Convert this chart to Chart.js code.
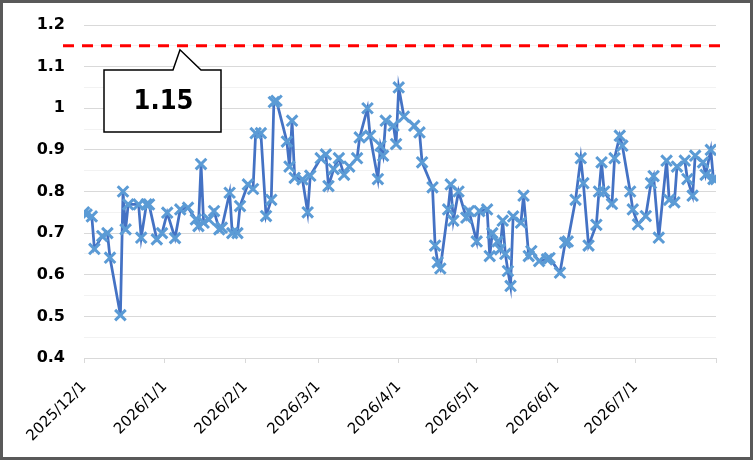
<!DOCTYPE html>
<html>
<head>
<meta charset="utf-8">
<script src="https://cdn.jsdelivr.net/npm/chart.js@4.4.1/dist/chart.umd.min.js"></script>
<style>
  html, body { margin: 0; padding: 0; background: #fff; }
  canvas { display: block; }
</style>
</head>
<body>
<canvas id="c" width="753" height="460"></canvas>
<script>
// ---- data ----
const dates = [
  '2025/12/1','2025/12/2','2025/12/4','2025/12/5','2025/12/8','2025/12/10','2025/12/11',
  '2025/12/15','2025/12/16','2025/12/17','2025/12/18','2025/12/22','2025/12/23','2025/12/25',
  '2025/12/26','2025/12/29','2025/12/31',
  '2026/1/2','2026/1/5','2026/1/7','2026/1/10','2026/1/13','2026/1/14','2026/1/15','2026/1/16',
  '2026/1/18','2026/1/20','2026/1/22','2026/1/23','2026/1/26','2026/1/27','2026/1/29','2026/1/30',
  '2026/2/2','2026/2/4','2026/2/5','2026/2/7','2026/2/9','2026/2/11','2026/2/12','2026/2/13',
  '2026/2/17','2026/2/18','2026/2/19','2026/2/20','2026/2/23','2026/2/25','2026/2/26',
  '2026/3/2','2026/3/4','2026/3/5','2026/3/7','2026/3/9','2026/3/11','2026/3/13','2026/3/16',
  '2026/3/17','2026/3/20','2026/3/21','2026/3/24','2026/3/25','2026/3/26','2026/3/27','2026/3/30',
  '2026/3/31',
  '2026/4/1','2026/4/3','2026/4/7','2026/4/9','2026/4/10','2026/4/14','2026/4/15','2026/4/16',
  '2026/4/17','2026/4/20','2026/4/21','2026/4/22','2026/4/24','2026/4/27','2026/4/28',
  '2026/5/1','2026/5/2','2026/5/5','2026/5/6','2026/5/7','2026/5/9','2026/5/10','2026/5/11',
  '2026/5/12','2026/5/13','2026/5/14','2026/5/15','2026/5/18','2026/5/19','2026/5/21','2026/5/22',
  '2026/5/25','2026/5/28','2026/5/29',
  '2026/6/2','2026/6/4','2026/6/5','2026/6/8','2026/6/10','2026/6/11','2026/6/13','2026/6/16',
  '2026/6/17','2026/6/18','2026/6/19','2026/6/22','2026/6/23','2026/6/25','2026/6/26','2026/6/29',
  '2026/6/30',
  '2026/7/2','2026/7/5','2026/7/7','2026/7/8','2026/7/10','2026/7/13','2026/7/14','2026/7/16',
  '2026/7/17','2026/7/20','2026/7/21','2026/7/23','2026/7/24','2026/7/27','2026/7/28','2026/7/30',
  '2026/7/31','2026/8/1'
];
const values = [
  0.75,0.745,0.74,0.662,0.693,0.70,0.641,
  0.503,0.80,0.709,0.769,0.769,0.689,0.769,
  0.769,0.685,0.70,
  0.749,0.688,0.757,0.761,0.733,0.717,0.866,0.725,
  0.733,0.753,0.709,0.713,0.797,0.70,0.70,0.765,
  0.817,0.806,0.94,0.94,0.741,0.78,1.015,1.018,
  0.92,0.86,0.97,0.833,0.829,0.75,0.838,
  0.88,0.889,0.813,0.854,0.88,0.84,0.86,0.88,
  0.93,1.00,0.934,0.83,0.91,0.886,0.97,0.958,
  0.914,
  1.05,0.98,0.958,0.942,0.87,0.81,0.67,0.63,
  0.615,0.757,0.817,0.73,0.80,0.737,0.753,
  0.68,0.753,0.757,0.645,0.70,0.68,0.661,0.73,
  0.65,0.609,0.573,0.74,0.725,0.79,0.645,0.657,
  0.633,0.637,0.64,
  0.605,0.677,0.68,0.78,0.88,0.82,0.67,0.72,
  0.80,0.87,0.80,0.77,0.88,0.934,0.91,0.80,
  0.757,
  0.721,0.741,0.82,0.837,0.689,0.874,0.78,0.774,
  0.86,0.874,0.83,0.79,0.886,0.87,0.84,0.90,
  0.83,0.83
];
const monthTicks = ['2025/12/1','2026/1/1','2026/2/1','2026/3/1','2026/4/1','2026/5/1','2026/6/1','2026/7/1','2026/8/1'];
const labeledMonths = ['2025/12/1','2026/1/1','2026/2/1','2026/3/1','2026/4/1','2026/5/1','2026/6/1','2026/7/1'];
const yMin = 0.4, yMax = 1.2, yStep = 0.05;
const thresholdValue = 1.15;
const calloutText = '1.15';

// ---- helpers ----
function dayOf(s) {
  const [y, m, d] = s.split('/').map(Number);
  const [y0, m0, d0] = monthTicks[0].split('/').map(Number);
  return Math.round((Date.UTC(y, m - 1, d) - Date.UTC(y0, m0 - 1, d0)) / 864e5);
}
function isMajor(v) { return Math.abs(v * 10 - Math.round(v * 10)) < 1e-6; }

const points = dates.map((d, i) => ({ x: dayOf(d), y: values[i] }));
const tickDays = monthTicks.map(dayOf);
const tickLabelMap = {};
labeledMonths.forEach(s => { tickLabelMap[dayOf(s)] = s; });

const decor = {
  id: 'decor',
  beforeDraw(chart) {
    const ctx = chart.ctx;
    ctx.save();
    ctx.fillStyle = '#fff';
    ctx.fillRect(0, 0, chart.width, chart.height);
    ctx.restore();
  },
  afterDraw(chart) {
    const ctx = chart.ctx;
    const ys = chart.scales.y;
    const yT = ys.getPixelForValue(thresholdValue);
    ctx.save();
    // red dashed threshold line
    ctx.strokeStyle = '#FF0000';
    ctx.lineWidth = 3;
    ctx.setLineDash([11, 8]);
    ctx.beginPath();
    ctx.moveTo(63, yT);
    ctx.lineTo(726, yT);
    ctx.stroke();
    ctx.setLineDash([]);
    // callout
    const bx = 104, by = 70, bw = 117, bh = 62;
    ctx.beginPath();
    ctx.moveTo(bx, by);
    ctx.lineTo(173, by);
    ctx.lineTo(180, yT + 4);
    ctx.lineTo(201, by);
    ctx.lineTo(bx + bw, by);
    ctx.lineTo(bx + bw, by + bh);
    ctx.lineTo(bx, by + bh);
    ctx.closePath();
    ctx.fillStyle = '#fff';
    ctx.fill();
    ctx.strokeStyle = '#000';
    ctx.lineWidth = 1.5;
    ctx.stroke();
    ctx.fillStyle = '#000';
    ctx.font = 'bold 27px "DejaVu Sans Condensed", "DejaVu Sans"';
    ctx.textAlign = 'center';
    ctx.textBaseline = 'middle';
    ctx.fillText(calloutText, bx + bw / 2 + 1, by + bh / 2 + 1);
    // outer frame
    ctx.strokeStyle = '#595959';
    ctx.lineWidth = 3;
    ctx.strokeRect(1.5, 1.5, chart.width - 3, chart.height - 3);
    ctx.restore();
  }
};

new Chart(document.getElementById('c'), {
  type: 'line',
  data: {
    datasets: [{
      data: points,
      borderColor: '#4472C4',
      borderWidth: 2.75,
      pointStyle: 'crossRot',
      pointRadius: 7.5,
      pointBorderWidth: 3,
      pointBorderColor: '#5B9BD5',
      pointBackgroundColor: '#5B9BD5',
      tension: 0,
      fill: false
    }]
  },
  options: {
    responsive: false,
    animation: false,
    devicePixelRatio: 1,
    layout: { padding: { left: 0, top: 25, right: 37, bottom: 0 } },
    plugins: { legend: { display: false }, tooltip: { enabled: false } },
    scales: {
      x: {
        type: 'linear',
        min: tickDays[0],
        max: tickDays[tickDays.length - 1],
        afterBuildTicks(scale) { scale.ticks = tickDays.map(v => ({ value: v })); },
        afterFit(scale) { scale.height = 102; scale.paddingTop = 0; scale.paddingBottom = 0; },
        ticks: {
          autoSkip: false,
          minRotation: 45,
          maxRotation: 45,
          padding: 15,
          color: '#000',
          font: { family: '"DejaVu Sans"', size: 15 },
          callback: (v) => tickLabelMap[v] || ''
        },
        grid: { drawOnChartArea: false, drawTicks: true, tickLength: 5, color: '#D9D9D9' },
        border: { display: true, color: '#D9D9D9', width: 1 }
      },
      y: {
        min: yMin,
        max: yMax,
        afterFit(scale) { scale.width = 84; scale.paddingTop = 0; scale.paddingBottom = 0; },
        ticks: {
          stepSize: yStep,
          autoSkip: false,
          padding: 19,
          color: '#000',
          font: { family: '"DejaVu Sans"', size: 16, weight: 'bold' },
          callback: (v) => isMajor(v) ? String(Number(v.toFixed(1))) : ''
        },
        grid: {
          drawTicks: false,
          color: (c) => (c.tick && isMajor(c.tick.value)) ? '#D9D9D9' : '#F2F2F2',
          lineWidth: 1
        },
        border: { display: false }
      }
    }
  },
  plugins: [decor]
});
</script>
</body>
</html>
